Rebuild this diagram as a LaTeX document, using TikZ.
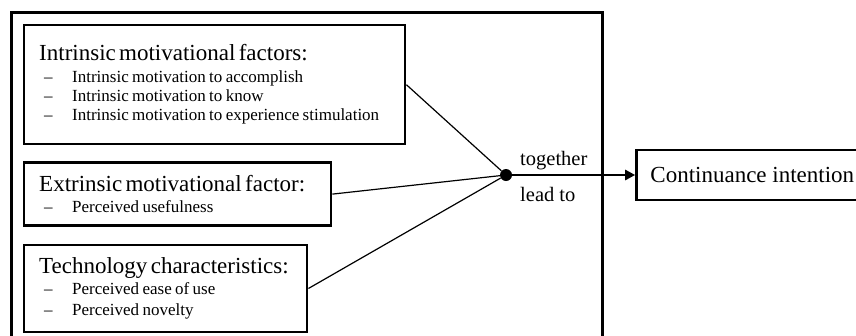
\documentclass[tikz,border=0pt]{standalone}
\usepackage{fontspec}
\setmainfont{Liberation Serif}
\usetikzlibrary{arrows.meta,positioning}
\setlength{\parindent}{0pt}
\newcommand{\hdfont}{\fontsize{23}{22}\selectfont}
\newcommand{\itfont}{\fontsize{17}{19}\selectfont}
\newcommand{\fitem}[1]{\mbox{\hspace*{5pt}\makebox[28pt][l]{–}#1}\par}

\begin{document}
\begin{tikzpicture}[x=1pt,y=-1pt,
  factorbox/.style={draw,line width=2.4pt,anchor=north west,align=left,inner xsep=15pt,inner ysep=0pt},
  lbl/.style={inner sep=0pt,font=\fontsize{20.5}{22}\selectfont}]
\useasboundingbox (0,0) rectangle (856,335);
\clip (0,0) rectangle (856,335);
\draw[line width=3pt] (11,360) -- (11,12) -- (602,12) -- (602,360);
\node[factorbox,minimum width=381pt,minimum height=119pt,text width=351pt] (im) at (23,24) {\mbox{\hdfont Intrinsic motivational factors:}\par\vspace{3pt}\itfont
  \fitem{Intrinsic motivation to accomplish}
  \fitem{Intrinsic motivation to know}
  \fitem{Intrinsic motivation to experience stimulation}};
\node[factorbox,minimum width=307pt,minimum height=63pt,text width=277pt,below=16pt of im.south west,anchor=north west] (em) {\mbox{\hdfont Extrinsic motivational factor:}\par\vspace{2pt}\itfont
  \fitem{Perceived usefulness}};
\node[factorbox,minimum width=283pt,minimum height=87pt,text width=253pt,below=17pt of em.south west,anchor=north west] (tc) {\mbox{\hdfont Technology characteristics:}\par\vspace{2pt}\itfont
  \fitem{Perceived ease of use}\vspace{2.5pt}
  \fitem{Perceived novelty}};
\node[circle,fill,inner sep=0pt,minimum size=12pt] (hub) at (506,175) {};
\node[draw,line width=2.4pt,minimum height=50pt,inner xsep=14pt,font=\hdfont,right=123pt of hub] (ci) {Continuance intention};
\foreach \a in {im,em,tc}{\draw[line width=1.2pt] (\a.east) -- (hub);}
\draw[line width=2.5pt,-{Triangle[length=10pt,width=10pt]}] (hub) -- (ci);
\node[lbl,anchor=base west] (tog) at ([xshift=14pt,yshift=10pt]hub.center) {together};
\node[lbl,anchor=base west] (lead) at ([xshift=14pt,yshift=-26pt]hub.center) {lead to};
\end{tikzpicture}
\end{document}
